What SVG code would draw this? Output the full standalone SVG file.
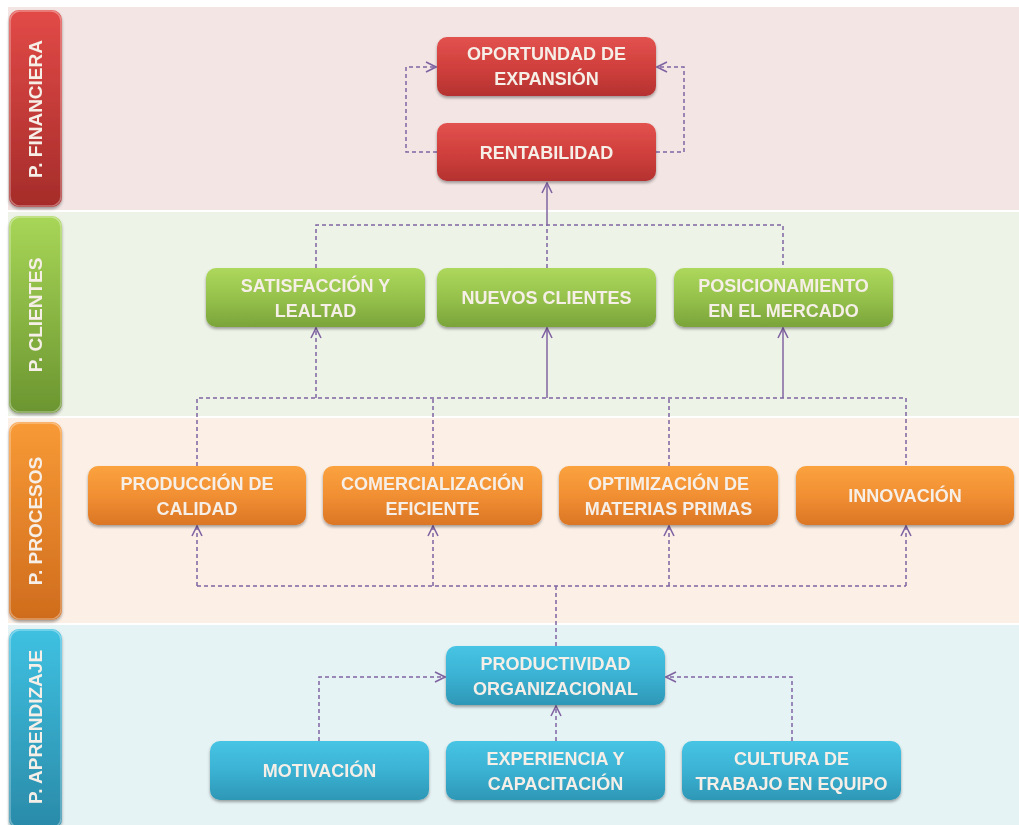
<svg xmlns="http://www.w3.org/2000/svg" width="1019" height="825" viewBox="0 0 1019 825">
  <defs>
    <linearGradient id="gRed" x1="0" y1="0" x2="0" y2="1">
      <stop offset="0" stop-color="#e2524e"/>
      <stop offset="0.5" stop-color="#d1403d"/>
      <stop offset="1" stop-color="#b53230"/>
    </linearGradient>
    <linearGradient id="gGreen" x1="0" y1="0" x2="0" y2="1">
      <stop offset="0" stop-color="#add85c"/>
      <stop offset="0.5" stop-color="#96c24c"/>
      <stop offset="1" stop-color="#7aa43a"/>
    </linearGradient>
    <linearGradient id="gOrange" x1="0" y1="0" x2="0" y2="1">
      <stop offset="0" stop-color="#fba23e"/>
      <stop offset="0.5" stop-color="#f18f33"/>
      <stop offset="1" stop-color="#db7625"/>
    </linearGradient>
    <linearGradient id="gBlue" x1="0" y1="0" x2="0" y2="1">
      <stop offset="0" stop-color="#47c4e4"/>
      <stop offset="0.5" stop-color="#3bb2d3"/>
      <stop offset="1" stop-color="#2e97b6"/>
    </linearGradient>
    <linearGradient id="lRed" x1="0" y1="0" x2="0" y2="1">
      <stop offset="0" stop-color="#e24a47"/>
      <stop offset="1" stop-color="#a52c2a"/>
    </linearGradient>
    <linearGradient id="lGreen" x1="0" y1="0" x2="0" y2="1">
      <stop offset="0" stop-color="#a8d657"/>
      <stop offset="1" stop-color="#6b9530"/>
    </linearGradient>
    <linearGradient id="lOrange" x1="0" y1="0" x2="0" y2="1">
      <stop offset="0" stop-color="#f89a36"/>
      <stop offset="1" stop-color="#cf6c1d"/>
    </linearGradient>
    <linearGradient id="lBlue" x1="0" y1="0" x2="0" y2="1">
      <stop offset="0" stop-color="#3fc1e2"/>
      <stop offset="1" stop-color="#2a8aa8"/>
    </linearGradient>
    <filter id="shadow" x="-10%" y="-20%" width="120%" height="150%">
      <feDropShadow dx="0" dy="2" stdDeviation="1.8" flood-color="#000" flood-opacity="0.35"/>
    </filter>
    <marker id="arrow" viewBox="0 0 12 12" refX="11" refY="6" markerWidth="12" markerHeight="12" markerUnits="userSpaceOnUse" orient="auto">
      <path d="M1,1 L11,6 L1,11" fill="none" stroke="#8064a2" stroke-width="1.6"/>
    </marker>
  </defs>
  <style>
    .node { filter: url(#shadow); }
    .node rect { rx: 10px; ry: 10px; }
    .txt { font-family: "Liberation Sans", Arial, sans-serif; font-weight: bold; font-size: 18px; fill: #f6efe8; text-anchor: middle; }
    .lbl { font-family: "Liberation Sans", Arial, sans-serif; font-weight: bold; font-size: 19px; fill: #f6efe8; text-anchor: middle; }
    .dash { fill: none; stroke: #8064a2; stroke-width: 1.5; stroke-dasharray: 4 3; }
    .solid { fill: none; stroke: #8064a2; stroke-width: 1.5; }
    .hl { fill: none; stroke: #ffffff; stroke-opacity: 0.35; stroke-width: 1.5; }
  </style>

  <rect width="1019" height="825" fill="#ffffff"/>

  <!-- perspective bands -->
  <g id="bands">
    <rect x="8" y="7" width="1011" height="203" fill="#f2e5e4"/>
    <rect x="8" y="212" width="1011" height="204" fill="#eef3e8"/>
    <rect x="8" y="418" width="1011" height="205" fill="#fbefe6"/>
    <rect x="8" y="625" width="1011" height="200" fill="#e6f3f5"/>
  </g>

  <!-- band labels -->
  <g id="label-financiera" class="node">
    <rect x="9" y="10" width="53" height="197" fill="url(#lRed)" rx="2" ry="2"/>
    <rect x="10" y="11" width="51" height="195" class="hl" rx="2" ry="2"/>
    <text class="lbl" transform="translate(42,109) rotate(-90)">P. FINANCIERA</text>
  </g>
  <g id="label-clientes" class="node">
    <rect x="9" y="216" width="53" height="197" fill="url(#lGreen)" rx="2" ry="2"/>
    <rect x="10" y="217" width="51" height="195" class="hl" rx="2" ry="2"/>
    <text class="lbl" transform="translate(42,315) rotate(-90)">P. CLIENTES</text>
  </g>
  <g id="label-procesos" class="node">
    <rect x="9" y="422" width="53" height="198" fill="url(#lOrange)" rx="2" ry="2"/>
    <rect x="10" y="423" width="51" height="196" class="hl" rx="2" ry="2"/>
    <text class="lbl" transform="translate(42,521) rotate(-90)">P. PROCESOS</text>
  </g>
  <g id="label-aprendizaje" class="node">
    <rect x="9" y="629" width="53" height="200" fill="url(#lBlue)" rx="2" ry="2"/>
    <rect x="10" y="630" width="51" height="198" class="hl" rx="2" ry="2"/>
    <text class="lbl" transform="translate(42,727) rotate(-90)">P. APRENDIZAJE</text>
  </g>

  <!-- connectors -->
  <g id="connectors">
    <!-- financial loop -->
    <path class="dash" d="M437,152 H406 V67 H436" marker-end="url(#arrow)"/>
    <path class="dash" d="M656,152 H684 V67 H657" marker-end="url(#arrow)"/>
    <!-- clients to profitability -->
    <path class="dash" d="M316,268 V225 H783 V268"/>
    <path class="dash" d="M547,268 V225"/>
    <path class="solid" d="M547,225 V183" marker-end="url(#arrow)"/>
    <!-- processes to clients -->
    <path class="dash" d="M197,466 V398 H906 V466"/>
    <path class="dash" d="M433,466 V398"/>
    <path class="dash" d="M669,466 V398"/>
    <path class="dash" d="M316,398 V328" marker-end="url(#arrow)"/>
    <path class="solid" d="M547,398 V328" marker-end="url(#arrow)"/>
    <path class="solid" d="M783,398 V328" marker-end="url(#arrow)"/>
    <!-- productivity to processes -->
    <path class="dash" d="M556,646 V586"/>
    <path class="dash" d="M197,586 H906"/>
    <path class="dash" d="M197,586 V526" marker-end="url(#arrow)"/>
    <path class="dash" d="M433,586 V526" marker-end="url(#arrow)"/>
    <path class="dash" d="M669,586 V526" marker-end="url(#arrow)"/>
    <path class="dash" d="M906,586 V526" marker-end="url(#arrow)"/>
    <!-- learning to productivity -->
    <path class="dash" d="M319,741 V677 H445" marker-end="url(#arrow)"/>
    <path class="dash" d="M556,741 V706" marker-end="url(#arrow)"/>
    <path class="dash" d="M792,741 V677 H666" marker-end="url(#arrow)"/>
  </g>

  <!-- financial -->
  <g id="oportunidad" class="node">
    <rect x="437" y="37" width="219" height="59" fill="url(#gRed)"/>
    <text class="txt" x="546.5" y="60">OPORTUNDAD DE</text>
    <text class="txt" x="546.5" y="85">EXPANSIÓN</text>
  </g>
  <g id="rentabilidad" class="node">
    <rect x="437" y="123" width="219" height="58" fill="url(#gRed)"/>
    <text class="txt" x="546.5" y="158.5">RENTABILIDAD</text>
  </g>

  <!-- clients -->
  <g id="satisfaccion" class="node">
    <rect x="206" y="268" width="219" height="59" fill="url(#gGreen)"/>
    <text class="txt" x="315.5" y="291.5">SATISFACCIÓN Y</text>
    <text class="txt" x="315.5" y="316.5">LEALTAD</text>
  </g>
  <g id="nuevos-clientes" class="node">
    <rect x="437" y="268" width="219" height="59" fill="url(#gGreen)"/>
    <text class="txt" x="546.5" y="304">NUEVOS CLIENTES</text>
  </g>
  <g id="posicionamiento" class="node">
    <rect x="674" y="268" width="219" height="59" fill="url(#gGreen)"/>
    <text class="txt" x="783.5" y="291.5">POSICIONAMIENTO</text>
    <text class="txt" x="783.5" y="316.5">EN EL MERCADO</text>
  </g>

  <!-- processes -->
  <g id="produccion" class="node">
    <rect x="88" y="466" width="218" height="59" fill="url(#gOrange)"/>
    <text class="txt" x="197" y="489.5">PRODUCCIÓN DE</text>
    <text class="txt" x="197" y="514.5">CALIDAD</text>
  </g>
  <g id="comercializacion" class="node">
    <rect x="323" y="466" width="219" height="59" fill="url(#gOrange)"/>
    <text class="txt" x="432.5" y="489.5">COMERCIALIZACIÓN</text>
    <text class="txt" x="432.5" y="514.5">EFICIENTE</text>
  </g>
  <g id="optimizacion" class="node">
    <rect x="559" y="466" width="219" height="59" fill="url(#gOrange)"/>
    <text class="txt" x="668.5" y="489.5">OPTIMIZACIÓN DE</text>
    <text class="txt" x="668.5" y="514.5">MATERIAS PRIMAS</text>
  </g>
  <g id="innovacion" class="node">
    <rect x="796" y="466" width="218" height="59" fill="url(#gOrange)"/>
    <text class="txt" x="905" y="502">INNOVACIÓN</text>
  </g>

  <!-- learning -->
  <g id="productividad" class="node">
    <rect x="446" y="646" width="219" height="59" fill="url(#gBlue)"/>
    <text class="txt" x="555.5" y="669.5">PRODUCTIVIDAD</text>
    <text class="txt" x="555.5" y="694.5">ORGANIZACIONAL</text>
  </g>
  <g id="motivacion" class="node">
    <rect x="210" y="741" width="219" height="59" fill="url(#gBlue)"/>
    <text class="txt" x="319.5" y="777">MOTIVACIÓN</text>
  </g>
  <g id="experiencia" class="node">
    <rect x="446" y="741" width="219" height="59" fill="url(#gBlue)"/>
    <text class="txt" x="555.5" y="764.5">EXPERIENCIA Y</text>
    <text class="txt" x="555.5" y="789.5">CAPACITACIÓN</text>
  </g>
  <g id="cultura" class="node">
    <rect x="682" y="741" width="219" height="59" fill="url(#gBlue)"/>
    <text class="txt" x="791.5" y="764.5">CULTURA DE</text>
    <text class="txt" x="791.5" y="789.5">TRABAJO EN EQUIPO</text>
  </g>
</svg>
